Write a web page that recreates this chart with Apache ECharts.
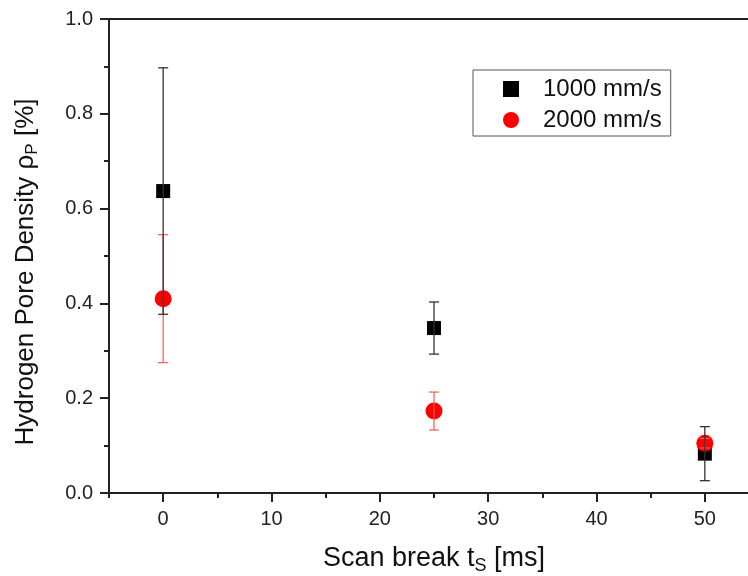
<!DOCTYPE html>
<html>
<head>
<meta charset="utf-8">
<script src="https://cdn.jsdelivr.net/npm/echarts@6/dist/echarts.min.js"></script>
<style>
  html, body { margin: 0; padding: 0; background: #fff; }
  #main { width: 748px; height: 576px; }
</style>
</head>
<body>
<div id="main"></div>
<script>
// scan break [ms]
const scanBreak = [0, 25, 50];
// 1000 mm/s
const dens1000 = [0.637, 0.348, 0.083];
const err1000 = [0.26, 0.055, 0.057];
// 2000 mm/s
const dens2000 = [0.41, 0.173, 0.105];
const err2000 = [0.135, 0.04, 0.01];
const xMajorTicks = [0, 10, 20, 30, 40, 50];
const xMinorTicks = [-5, 5, 15, 25, 35, 45, 55];

const font = 'Liberation Sans, Arial, sans-serif';

function pts(ys) {
    return scanBreak.map((x, i) => [x, ys[i]]);
}
function bars(ys, es) {
    return scanBreak.map((x, i) => [x, ys[i] - es[i], ys[i] + es[i]]);
}

function errorBar(color, width) {
    return function (params, api) {
        const lo = api.coord([api.value(0), api.value(1)]);
        const hi = api.coord([api.value(0), api.value(2)]);
        const hw = 5;
        const style = {stroke: color, lineWidth: width};
        return {
            type: 'group',
            children: [
                {type: 'line', shape: {x1: lo[0], y1: lo[1], x2: hi[0], y2: hi[1]}, style: style},
                {type: 'line', shape: {x1: lo[0] - hw, y1: lo[1], x2: lo[0] + hw, y2: lo[1]}, style: style},
                {type: 'line', shape: {x1: hi[0] - hw, y1: hi[1], x2: hi[0] + hw, y2: hi[1]}, style: style}
            ]
        };
    };
}

const chart = echarts.init(document.getElementById('main'));
chart.setOption({
    animation: false,
    textStyle: {fontFamily: font},
    grid: {
        left: 109, top: 19, right: -11, bottom: 83,
        outerBoundsMode: 'none',
        show: true, borderColor: '#222', borderWidth: 2
    },
    legend: {
        orient: 'vertical',
        left: 473, top: 70,
        padding: [7, 9, 4, 30],
        itemGap: 7,
        itemWidth: 16, itemHeight: 16,
        borderColor: '#555', borderWidth: 1,
        textStyle: {fontSize: 24, color: '#111', fontFamily: font, padding: [0, 2, 0, 19]},
        data: [
            {name: '1000 mm/s', icon: 'rect', itemStyle: {color: '#000'}},
            {name: '2000 mm/s', icon: 'circle', itemStyle: {color: '#ff0000'}}
        ]
    },
    xAxis: [{
        type: 'value', min: -5, max: 55,
        name: 'Scan break t{sub|S} [ms]',
        nameLocation: 'middle', nameGap: 50,
        nameTextStyle: {
            fontSize: 27, color: '#111', fontFamily: font,
            rich: {sub: {fontSize: 18, verticalAlign: 'bottom', padding: [14, 0, 0, 0], color: '#111'}}
        },
        axisLine: {show: true, onZero: false, lineStyle: {color: '#222', width: 2}},
        axisTick: {show: true, customValues: xMajorTicks, length: 9, lineStyle: {color: '#222', width: 2}},
        axisLabel: {customValues: xMajorTicks, fontSize: 20, color: '#222', margin: 16, fontFamily: font},
        splitLine: {show: false}
    }, {
        type: 'value', min: -5, max: 55, position: 'bottom',
        axisLine: {show: false},
        axisTick: {show: true, customValues: xMinorTicks, length: 5, lineStyle: {color: '#222', width: 2}},
        axisLabel: {show: false},
        splitLine: {show: false}
    }],
    yAxis: {
        type: 'value', min: 0, max: 1, interval: 0.2,
        name: 'Hydrogen Pore Density ρ{sub|P} [%]',
        nameLocation: 'middle', nameGap: 68, nameRotate: 90,
        nameTextStyle: {
            fontSize: 26, color: '#111', fontFamily: font, padding: [0, 32, 0, 0],
            rich: {sub: {fontSize: 17, verticalAlign: 'bottom', padding: [14, 0, 0, 0], color: '#111'}}
        },
        axisLine: {show: true, onZero: false, lineStyle: {color: '#222', width: 2}},
        axisTick: {show: true, length: 9, lineStyle: {color: '#222', width: 2}},
        minorTick: {show: true, splitNumber: 2, length: 5, lineStyle: {color: '#222', width: 2}},
        axisLabel: {fontSize: 20, color: '#222', margin: 16, fontFamily: font, formatter: v => v.toFixed(1)},
        splitLine: {show: false}
    },
    series: [
        {
            name: '1000 mm/s', type: 'scatter', symbol: 'rect', symbolSize: 14,
            itemStyle: {color: '#000', opacity: 1}, data: pts(dens1000), z: 2
        },
        {
            name: '2000 mm/s', type: 'scatter', symbol: 'circle', symbolSize: 17,
            itemStyle: {color: '#ff0000', opacity: 1}, data: pts(dens2000), z: 3
        },
        {
            type: 'custom', renderItem: errorBar('#ff5555', 1.2), data: bars(dens2000, err2000), z: 4,
            encode: {x: 0, y: [1, 2]}
        },
        {
            type: 'custom', renderItem: errorBar('#333', 1.3), data: bars(dens1000, err1000), z: 5,
            encode: {x: 0, y: [1, 2]}
        }
    ]
});
</script>
</body>
</html>
